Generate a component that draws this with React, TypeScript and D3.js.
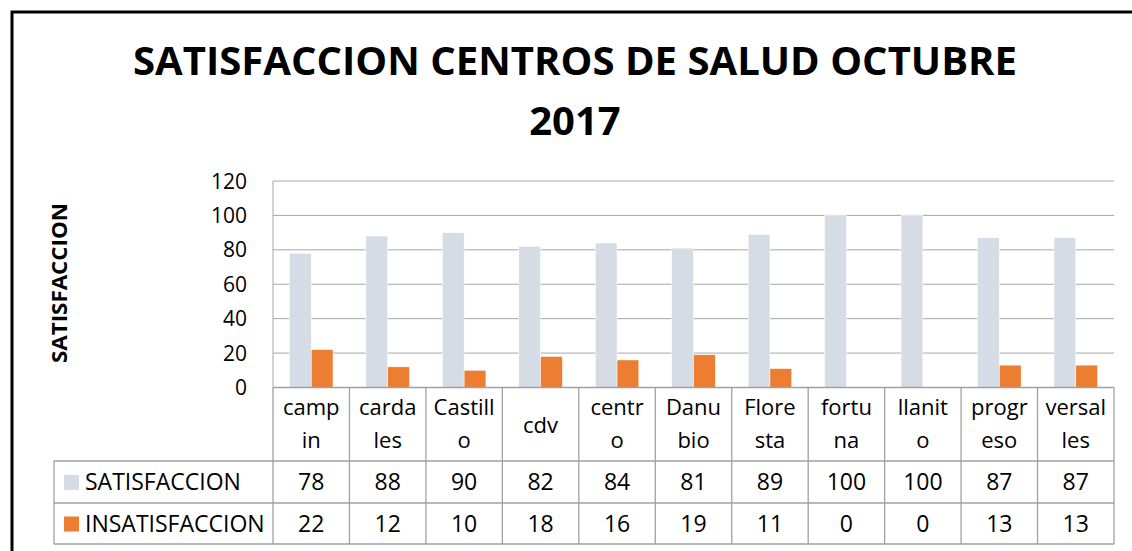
import React from "react";
import * as d3 from "d3";

const categoryLines: string[][] = [
  ["camp", "in"],
  ["carda", "les"],
  ["Castill", "o"],
  ["cdv"],
  ["centr", "o"],
  ["Danu", "bio"],
  ["Flore", "sta"],
  ["fortu", "na"],
  ["llanit", "o"],
  ["progr", "eso"],
  ["versal", "les"],
];
const categories = categoryLines.map((l) => l.join(""));
const satisfaccion = [78, 88, 90, 82, 84, 81, 89, 100, 100, 87, 87];
const insatisfaccion = [22, 12, 10, 18, 16, 19, 11, 0, 0, 13, 13];
const seriesNames = ["SATISFACCION", "INSATISFACCION"];
const seriesColors = ["#D6DCE5", "#ED7D31"];
const yTicks = [0, 20, 40, 60, 80, 100, 120];

const W = 1132;
const H = 551;
const plotLeft = 273;
const plotRight = 1114;
const plotTop = 181;
const plotBottom = 387.5;
const headerBottom = 461;
const row1Bottom = 503;
const row2Bottom = 544;
const legendLeft = 54;
const FONT = "'Open Sans', sans-serif";
const GRID = "#A6A6A6";
const TABLE = "#A0A0A0";

export default function App() {
  const x = d3
    .scaleBand<string>()
    .domain(categories)
    .range([plotLeft, plotRight])
    .paddingInner(0.43)
    .paddingOuter(0.215);
  const xs = d3.scaleBand<string>().domain(seriesNames).range([0, x.bandwidth()]);
  const y = d3.scaleLinear().domain([0, 120]).range([plotBottom, plotTop]);
  const step = x.step();
  const series = [satisfaccion, insatisfaccion];
  const cellLeft = (i: number) => plotLeft + i * step;

  return (
    <svg width={W} height={H} style={{ position: "absolute", left: 0, top: 0, background: "#fff" }}>
      <rect x={0} y={0} width={W} height={H} fill="#fff" />
      {/* outer frame */}
      <rect x={12} y={12} width={W + 20} height={H + 20} fill="none" stroke="#000" strokeWidth={3} />
      {/* title */}
      <text x={575} y={75} textAnchor="middle" fontFamily={FONT} fontWeight={700} fontSize={40}
        textLength={884} lengthAdjust="spacingAndGlyphs" fill="#000">
        SATISFACCION CENTROS DE SALUD OCTUBRE
      </text>
      <text x={575} y={135} textAnchor="middle" fontFamily={FONT} fontWeight={700} fontSize={40} fill="#000">
        2017
      </text>
      {/* y axis title */}
      <text transform={`translate(67,283) rotate(-90)`} textAnchor="middle" fontFamily={FONT}
        fontWeight={700} fontSize={22} textLength={160} lengthAdjust="spacingAndGlyphs" fill="#000">
        SATISFACCION
      </text>
      {/* gridlines */}
      {yTicks.map((t) => (
        <line key={t} x1={plotLeft} x2={plotRight} y1={y(t)} y2={y(t)} stroke={GRID} strokeWidth={1} />
      ))}
      <line x1={plotLeft} x2={plotLeft} y1={plotTop} y2={plotBottom} stroke={GRID} strokeWidth={1} />
      {/* tick labels */}
      {yTicks.map((t) => (
        <text key={t} x={247} y={y(t)} dy="0.36em" textAnchor="end" fontFamily={FONT} fontSize={21} fill="#000">
          {t}
        </text>
      ))}
      {/* bars */}
      {categories.map((c, i) => (
        <g key={c}>
          {series.map((s, k) => {
            const v = s[i];
            if (v <= 0) return null;
            return (
              <rect key={k} x={(x(c) as number) + (xs(seriesNames[k]) as number)} y={y(v)}
                width={xs.bandwidth()} height={y(0) - y(v)} fill={seriesColors[k]} stroke="#fff" strokeWidth={0.5} />
            );
          })}
        </g>
      ))}
      {/* data table */}
      <g stroke={TABLE} strokeWidth={1.3} fill="none">
        <line x1={plotLeft} x2={plotRight} y1={plotBottom} y2={plotBottom} />
        <line x1={legendLeft} x2={plotRight} y1={headerBottom} y2={headerBottom} />
        <line x1={legendLeft} x2={plotRight} y1={row1Bottom} y2={row1Bottom} />
        <line x1={legendLeft} x2={plotRight} y1={row2Bottom} y2={row2Bottom} />
        <line x1={legendLeft} x2={legendLeft} y1={headerBottom} y2={row2Bottom} />
        {d3.range(categories.length + 1).map((i) => (
          <line key={i} x1={cellLeft(i)} x2={cellLeft(i)} y1={plotBottom} y2={row2Bottom} />
        ))}
      </g>
      {categoryLines.map((lines, i) => {
        const cx = cellLeft(i) + step / 2;
        const baseY = lines.length === 1 ? 433 : 415;
        return lines.map((ln, j) => (
          <text key={`${i}-${j}`} x={cx} y={baseY + j * 33} textAnchor="middle" fontFamily={FONT} fontSize={22} fill="#000">
            {ln}
          </text>
        ));
      })}
      {series.map((s, k) => {
        const rowTop = k === 0 ? headerBottom : row1Bottom;
        const rowBottom = k === 0 ? row1Bottom : row2Bottom;
        const base = (rowTop + rowBottom) / 2 + 8;
        return (
          <g key={k}>
            <rect x={64} y={(rowTop + rowBottom) / 2 - 7} width={15} height={15} fill={seriesColors[k]} />
            <text x={85} y={base} fontFamily={FONT} fontSize={23} fill="#000">
              {seriesNames[k]}
            </text>
            {s.map((v, i) => (
              <text key={i} x={cellLeft(i) + step / 2} y={base} textAnchor="middle" fontFamily={FONT} fontSize={23} fill="#000">
                {v}
              </text>
            ))}
          </g>
        );
      })}
    </svg>
  );
}
